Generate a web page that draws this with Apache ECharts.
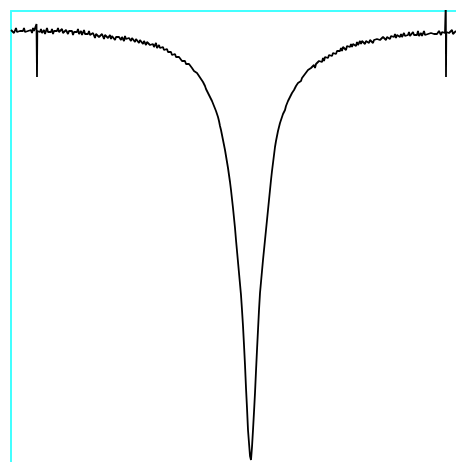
<!DOCTYPE html>
<html>
<head>
<meta charset="utf-8">
<script src="https://cdn.jsdelivr.net/npm/echarts@6/dist/echarts.min.js"></script>
<style>
html,body{margin:0;padding:0;background:#fff;}
#chart{width:456px;height:462px;}
</style>
</head>
<body>
<div id="chart"></div>
<script>
// Spectrum: counts per channel (one value per channel,
// each segment starts at the given channel), plus the two narrow glitch spikes.
const startA = 0;
const countsA = [
  432,430,433,429,431,434,430,428,432,431,
  433,429,431,434,430,432,428,431,433,430,
  432,429,434,431,430,431
];
const spikeLeftChannel = [25.5, 26, 26.3];
const spikeLeftCounts  = [438, 385, 431];

const startB = 27;
const countsB = [
  429,432,430,
  433,429,431,432,428,431,434,430,429,432,
  430,433,428,431,432,429,431,434,430,428,
  431,433,429,430,427,432,430,428,431,433,
  429,431,427,430,432,428,430,433,428,429,
  431,427,429,432,428,426,430,428,431,427,
  428,425,429,427,424,428,426,429,425,427,
  424,428,426,423,427,425,428,424,426,427,
  423,426,424,427,422,425,426,423,425,427,
  422,425,424,421,426,423,425,422,424,426,
  421,424,422,425,420,423,421,423,419,422,
  420,422,418,421,419,417,420,418,421,417,
  419,416,418,415,417,419,414,416,417,414,
  416,413,415,412,414,411,413,410,412,409,
  410,407,409,406,408,405,407,404,405,403,
  404,401,402,400,401,398,399,397,398,396,
  396,394,394,391,391,389,389,387,386,384,
  383,381,380,378,376,373,371,369,367,365,
  363,361,359,356,354,351,349,
  345,341,336,332,327,322,317,312,306,300,
  294,287,280,272,263,254,244,234,222,211,
  200,189,178,167,152,136,117,97,74,54,
  32,19,6,2,15,32,50,69,91,112,
  132,152,169,180,191,202,212,222,232,242,
  252,262,272,282,291,299,307,315,321,326,
  331,335,339,342,345,348,
  350,
  352,356,358,361,363,365,
  366,369,369,372,373,376,375,379,380,381,
  381,384,386,385,388,390,388,392,391,393,
  394,392,396,397,394,398,400,397,401,399,
  402,400,404,401,405,403,406,404,407,405,
  408,406,409,407,410,408,411,409,413,411,
  414,411,415,413,416,412,416,414,417,415,
  418,415,418,416,419,416,420,417,419,421,
  418,421,419,422,418,421,420,423,419,422,
  421,423,419,422,424,420,423,421,425,422,
  424,421,425,423,426,422,425,424,427,423,
  426,424,427,425,428,424,427,426,429,425,
  428,425,427,429,426,428,424,427,430,426,
  428,426,430,427,425,429,427,431,426,428,
  429,426,428,431,427,425,429,428,430,426,
  429,427,431,428,426,430,428,427,431,429,
  427,430,428,431,429
];
const spikeRightChannel = [434.8, 435, 435.3];
const spikeRightCounts  = [460, 385, 430];

const startC = 436;
const countsC = [428,431,429,427,430,432,428,430,429,431];

const points = [];
countsA.forEach((v, i) => points.push([startA + i, v]));
spikeLeftChannel.forEach((c, i) => points.push([c, spikeLeftCounts[i]]));
countsB.forEach((v, i) => points.push([startB + i, v]));
spikeRightChannel.forEach((c, i) => points.push([c, spikeRightCounts[i]]));
countsC.forEach((v, i) => points.push([startC + i, v]));

const chart = echarts.init(document.getElementById('chart'), null, {renderer: 'canvas'});
chart.setOption({
  animation: false,
  backgroundColor: '#ffffff',
  grid: {left: 11, top: 11, right: 0, bottom: 0, containLabel: false},
  xAxis: {
    type: 'value', position: 'top', min: 0, max: 445,
    axisLine: {show: true, onZero: false, lineStyle: {color: '#44ffff', width: 2}},
    axisTick: {show: false}, axisLabel: {show: false}, splitLine: {show: false}
  },
  yAxis: {
    type: 'value', min: 0, max: 451,
    axisLine: {show: true, onZero: false, lineStyle: {color: '#44ffff', width: 2}},
    axisTick: {show: false}, axisLabel: {show: false}, splitLine: {show: false}
  },
  series: [{
    type: 'line',
    data: points,
    showSymbol: false,
    clip: true,
    lineStyle: {color: '#000000', width: 1.8},
    z: 1
  }]
});
</script>
</body>
</html>
